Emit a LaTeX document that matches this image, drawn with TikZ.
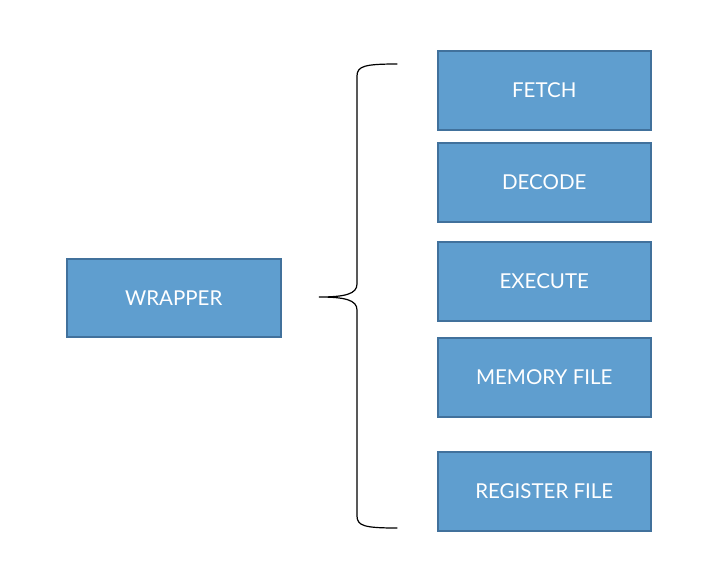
\documentclass[tikz,border=0pt]{standalone}
\usepackage{fontspec}
\setmainfont{Lato}
\definecolor{boxfill}{HTML}{5F9ECF}
\definecolor{boxline}{HTML}{41719C}
\begin{document}
\begin{tikzpicture}[x=1pt,y=-1pt,
  blk/.style={draw=boxline,line width=1.5pt,fill=boxfill,text=white,
    font=\fontsize{20.5}{24}\selectfont,inner sep=0pt,anchor=north west},
  brace/.style={draw=black,line width=1.2pt,line cap=round}]
\useasboundingbox (0,0) rectangle (707,587);
\node[blk,minimum width=214pt,minimum height=78pt] (wrap) at (66,258) {WRAPPER};
\node[blk,minimum width=213pt,minimum height=79pt] (fetch) at (437,50) {FETCH};
\node[blk,minimum width=213pt,minimum height=79pt] (decode) at (437,142) {DECODE};
\node[blk,minimum width=213pt,minimum height=79pt] (exec) at (437,241) {EXECUTE};
\node[blk,minimum width=213pt,minimum height=79pt] (mem) at (437,337) {MEMORY FILE};
\node[blk,minimum width=213pt,minimum height=79pt] (reg) at (437,451) {REGISTER FILE};
\coordinate (btop) at (397,64);
\coordinate (btip) at (319,297);
\coordinate (bbot) at (397,528);
\draw[brace] (btop) .. controls (365,64) and (357,66) .. (357,76)
  -- (357,284) .. controls (357,294) and (345,297) .. (btip)
  .. controls (345,297) and (357,300) .. (357,310)
  -- (357,516) .. controls (357,526) and (365,528) .. (bbot);
\end{tikzpicture}
\end{document}
